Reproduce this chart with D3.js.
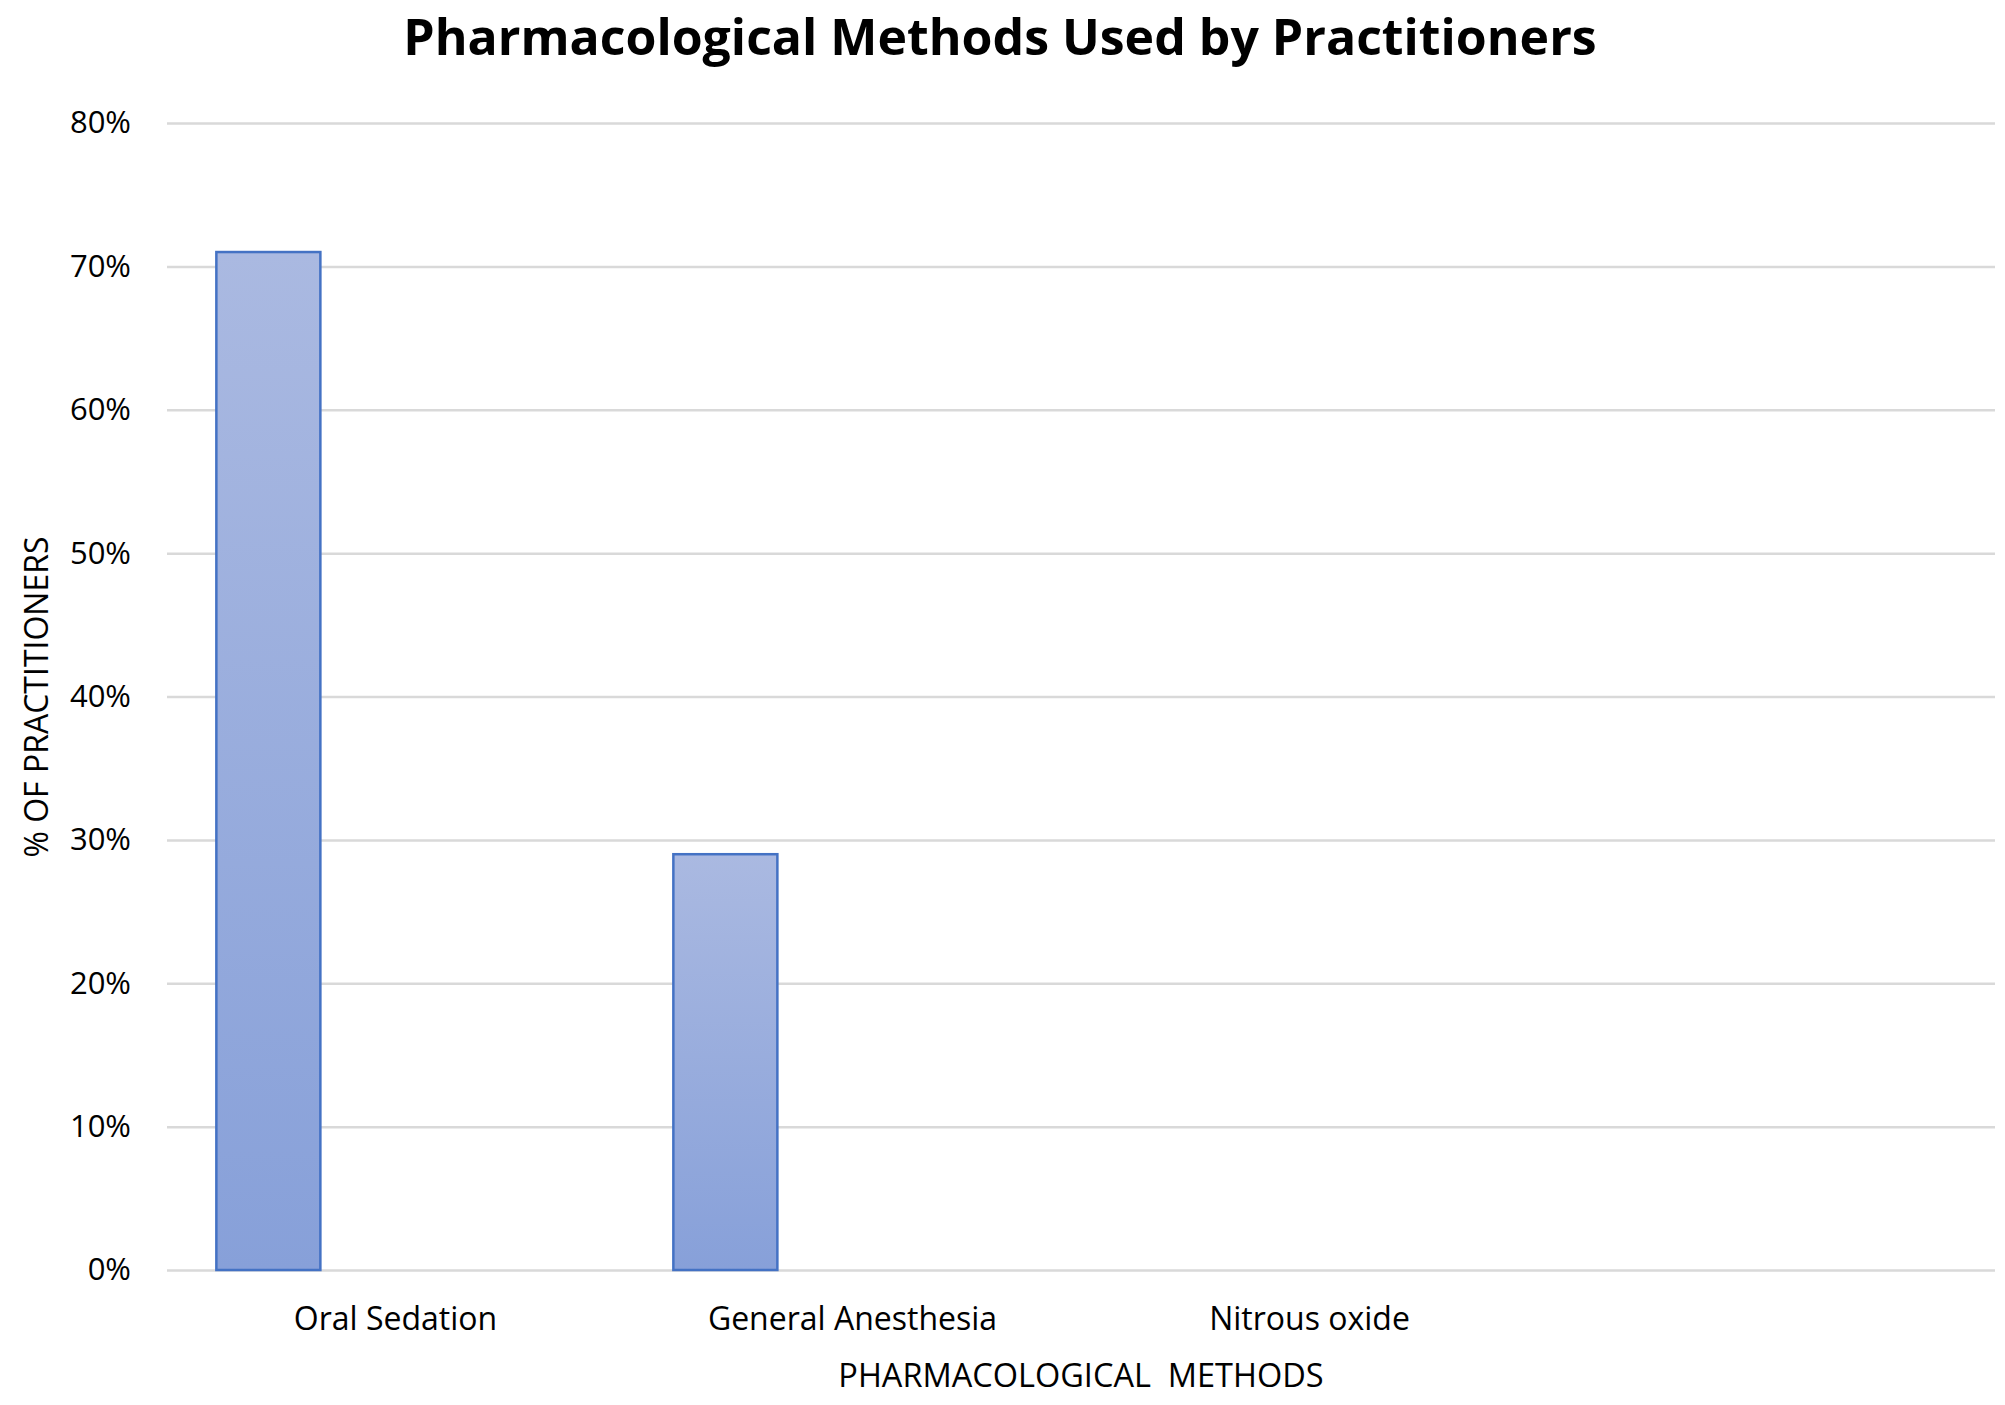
<!DOCTYPE html>
<html>
<head>
<meta charset="utf-8">
<script src="https://cdn.jsdelivr.net/npm/d3@7"></script>
<style>
  body { margin: 0; background: #fff; }
  text { font-family: "Open Sans", sans-serif; fill: #000; }
</style>
</head>
<body>
<div id="viz"></div>
<script>
// chart data
const categories = ["Oral Sedation", "General Anesthesia", "Nitrous oxide", ""]
const values = [71, 29, 0, null]
const yTicks = [0, 10, 20, 30, 40, 50, 60, 70, 80]

// dimensions and margin of the svg
const width = 2005
const height = 1405
const margin = {left: 167, top: 123, right: 10, bottom: 135}

const g_width = width - margin.left - margin.right;
const g_height = height - margin.top - margin.bottom;

const root = d3.select("#viz")
        .append("svg")
        .attr("width", width)
        .attr("height", height);

// vertical gradient for the bars
const grad = root.append("defs")
        .append("linearGradient")
        .attr("id", "barGrad")
        .attr("x1", 0).attr("y1", 0)
        .attr("x2", 0).attr("y2", 1);
grad.append("stop").attr("offset", "0%").attr("stop-color", "#aab9e1");
grad.append("stop").attr("offset", "100%").attr("stop-color", "#87a0d9");

const svg = root.append("g")
        .attr("transform", "translate(" + margin.left + "," + margin.top + ")");

// scales
const x = d3.scaleBand()
            .domain(categories)
            .range([0, g_width])
            .padding(0);

const y = d3.scaleLinear()
            .domain([0, d3.max(yTicks)])
            .range([g_height, 0]);

// y axis with gridlines
const yAxis = svg.append("g")
        .attr("class", "yaxis")
        .call(d3.axisLeft(y)
            .tickValues(yTicks)
            .tickSize(-g_width)
            .tickPadding(36)
            .tickFormat(function(d) { return d + "%" }));
yAxis.select(".domain").remove();
yAxis.selectAll("line")
        .style("stroke", "#d9d9d9")
        .style("stroke-width", 2.5);
yAxis.selectAll("text")
        .style("font-size", "31px")
        .style("font-family", "'Open Sans', sans-serif")
        .style("fill", "#000");

// x axis (labels only)
const xAxis = svg.append("g")
        .attr("class", "xaxis")
        .attr("transform", "translate(0," + g_height + ")")
        .call(d3.axisBottom(x).tickSize(0).tickPadding(37));
xAxis.select(".domain").remove();
xAxis.selectAll("text")
        .style("font-size", "32px")
        .style("font-family", "'Open Sans', sans-serif")
        .style("fill", "#000");

// bars
const data = categories.map(function(c, i) { return {cat: c, value: values[i]} })
        .filter(function(d) { return d.value > 0 });

svg.selectAll("rect.bar")
        .data(data)
        .enter()
        .append("rect")
        .attr("class", "bar")
        .attr("x", function(d) { return x(d.cat) + x.bandwidth() * 0.108 })
        .attr("y", function(d) { return y(d.value) })
        .attr("width", x.bandwidth() * 0.2276)
        .attr("height", function(d) { return g_height - y(d.value) })
        .attr("fill", "url(#barGrad)")
        .attr("stroke", "#4472c4")
        .attr("stroke-width", 2.5);

// title
root.append("text")
        .attr("x", 1000)
        .attr("y", 55)
        .attr("text-anchor", "middle")
        .style("font-size", "50px")
        .style("font-weight", "bold")
        .text("Pharmacological Methods Used by Practitioners");

// y label
root.append("text")
        .attr("transform", "translate(35,697)rotate(-90)")
        .attr("text-anchor", "middle")
        .attr("dominant-baseline", "central")
        .style("font-size", "32px")
        .text("% OF PRACTITIONERS");

// x label
root.append("text")
        .attr("x", margin.left + g_width / 2)
        .attr("y", 1387)
        .attr("text-anchor", "middle")
        .style("font-size", "32.5px")
        .style("white-space", "pre")
        .text("PHARMACOLOGICAL  METHODS");
</script>
</body>
</html>
